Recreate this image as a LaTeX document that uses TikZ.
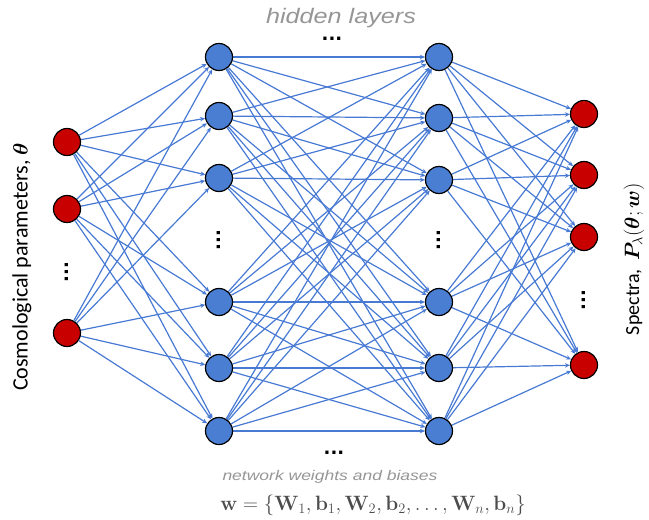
\documentclass[tikz,border=0pt]{standalone}
\usepackage[no-math]{fontspec}
\usepackage{amsmath}
\usepackage{bm}
\setmainfont{Carlito}
\newfontfamily\helvfont{Liberation Sans}
\newfontfamily\dotfont{DejaVu Sans}
\usetikzlibrary{arrows.meta,backgrounds}
\definecolor{wireblue}{RGB}{72,122,212}
\definecolor{cellblue}{RGB}{74,126,210}
\definecolor{cellred}{RGB}{200,0,0}
\definecolor{notegray}{RGB}{150,150,150}

\begin{document}
\begin{tikzpicture}[x=1pt,y=-1pt,
  neuron/.style={circle,draw=black,line width=1.2pt,minimum size=27pt,inner sep=0pt},
  inpcell/.style={neuron,fill=cellred},
  hidcell/.style={neuron,fill=cellblue},
  wire/.style={wireblue,line width=1.2pt,-{Stealth[length=5pt,width=4.5pt]}},
  moredots/.style={font=\dotfont\bfseries\fontsize{18}{18}\selectfont},
  note/.style={text=notegray,font=\helvfont\itshape}]
\useasboundingbox (0,0) rectangle (649,520);
% input layer:
\foreach \y [count=\i] in {142,209,333}
  \node[inpcell] (in\i) at (67,\y) {};
\node[moredots,rotate=90] (indots) at (67,272) {...};
% hidden layers:
\foreach \y [count=\i] in {57,116,178,302,368,431}
  \node[hidcell] (ha\i) at (219,\y) {};
\foreach \y [count=\i] in {57,118,180,302,368,431}
  \node[hidcell] (hb\i) at (439,\y) {};
\node[moredots,rotate=90] (hadots) at (219,240) {...};
\node[moredots,rotate=90] (hbdots) at (439,240) {...};
% output layer:
\foreach \y [count=\i] in {114,175,237,365}
  \node[inpcell] (out\i) at (584,\y) {};
\node[moredots,rotate=90] (outdots) at (584,300) {...};
% connections:
\begin{scope}[on background layer]
\foreach \i in {1,...,3}
  \foreach \j in {1,...,6}
    \draw[wire] (in\i) -- (ha\j);
\foreach \i in {1,...,6}
  \foreach \j in {1,...,6}
    \draw[wire] (ha\i) -- (hb\j);
\foreach \i in {1,...,6}
  \foreach \j in {1,...,4}
    \draw[wire] (hb\i) -- (out\j);
\end{scope}
% labels:
\node[note,xscale=1.2,font=\helvfont\itshape\fontsize{21}{24}\selectfont] (hidlabel) at (341,18) {hidden layers};
\node[moredots] (topdots) at (332,39) {...};
\node[moredots] (botdots) at (334,453) {...};
\node[note,xscale=1.25,font=\helvfont\itshape\fontsize{14}{16}\selectfont] (weightlabel) at (330,477) {network weights and biases};
\node[text=black!70,font=\fontsize{19.5}{22}\selectfont] (weights) at (373,505)
  {$\mathbf{w}=\{\mathbf{W}_1,\mathbf{b}_1,\mathbf{W}_2,\mathbf{b}_2,\dots,\mathbf{W}_n,\mathbf{b}_n\}$};
\node[rotate=90,font=\fontsize{22}{26}\selectfont] (inlabel) at (22,267) {Cosmological parameters, $\bm{\theta}$};
\node[rotate=90,font=\fontsize{20}{24}\selectfont] (outlabel) at (634,259) {Spectra, \ $\bm{P}_{\lambda}(\bm{\theta};\bm{w})$};
\end{tikzpicture}
\end{document}
